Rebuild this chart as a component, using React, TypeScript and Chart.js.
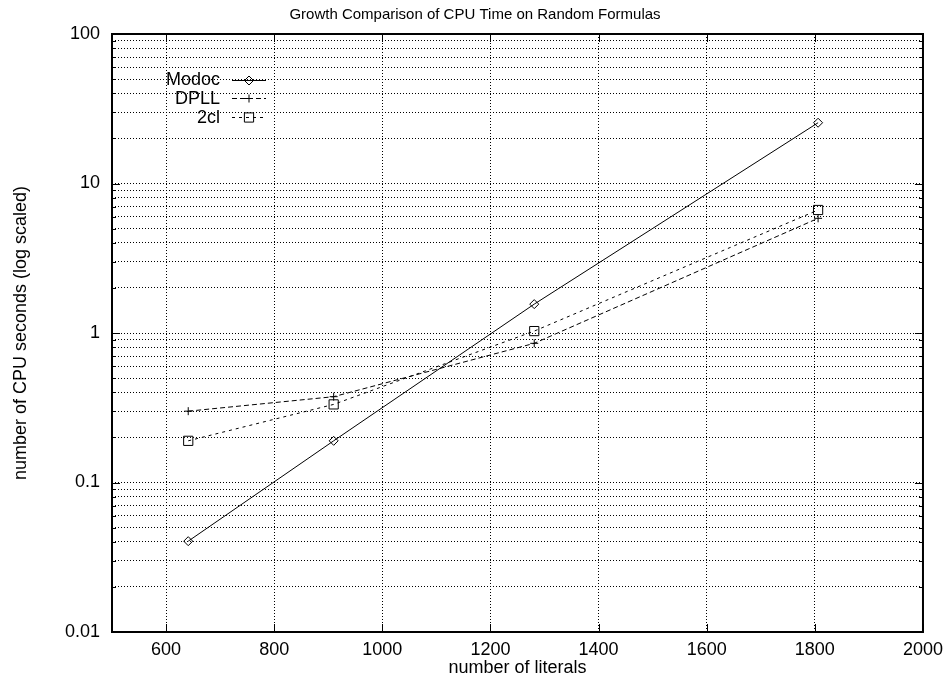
import React, { useEffect, useRef } from 'react';
import { Chart, registerables } from 'chart.js';

Chart.register(...registerables);

const chartTitle = 'Growth Comparison of CPU Time on Random Formulas';
const xTitle = 'number of literals';
const yTitle = 'number of CPU seconds (log scaled)';

const literals = [641, 910, 1281, 1806];
const modocSeconds = [0.0405, 0.19, 1.56, 25.5];
const dpllSeconds = [0.3, 0.375, 0.853, 5.85];
const twoClSeconds = [0.19, 0.333, 1.03, 6.65];
const seriesLabels = ['Modoc', 'DPLL', '2cl'];

const xTicks = [600, 800, 1000, 1200, 1400, 1600, 1800, 2000];
const yDecades = [0.01, 0.1, 1, 10, 100];
const yMinorMultipliers = [2, 3, 4, 5, 6, 7, 8, 9];

const FONT = "'Liberation Sans', Arial, Helvetica, sans-serif";

function buildYTicks() {
  const out: { value: number; major: boolean }[] = [];
  yDecades.forEach((d, i) => {
    out.push({ value: d, major: true });
    if (i < yDecades.length - 1) {
      yMinorMultipliers.forEach((m) => out.push({ value: Number((m * d).toPrecision(3)), major: false }));
    }
  });
  return out;
}

function drawMarker(ctx: CanvasRenderingContext2D, style: string, x: number, y: number, r: number) {
  ctx.beginPath();
  if (style === 'rectRot') {
    ctx.moveTo(x - r, y);
    ctx.lineTo(x, y - r);
    ctx.lineTo(x + r, y);
    ctx.lineTo(x, y + r);
    ctx.closePath();
  } else if (style === 'cross') {
    ctx.moveTo(x - r, y);
    ctx.lineTo(x + r, y);
    ctx.moveTo(x, y - r);
    ctx.lineTo(x, y + r);
  } else {
    const s = Math.SQRT1_2 * r;
    ctx.rect(x - s, y - s, 2 * s, 2 * s);
  }
  ctx.stroke();
}

const framePlugin = {
  id: 'gnuFrame',
  afterDraw(chart: any) {
    const { ctx, chartArea } = chart;
    const { left, right, top, bottom } = chartArea;
    const xs = chart.scales.x;
    const ys = chart.scales.y;
    ctx.save();
    // title
    ctx.font = `15px ${FONT}`;
    ctx.fillStyle = '#000';
    ctx.textAlign = 'center';
    ctx.textBaseline = 'middle';
    ctx.fillText(chartTitle, chart.width / 2, 15);

    ctx.strokeStyle = '#000';
    ctx.lineWidth = 1;
    ctx.setLineDash([]);
    ctx.beginPath();
    xs.ticks.forEach((t: any) => {
      const px = Math.round(xs.getPixelForValue(t.value)) + 0.5;
      ctx.moveTo(px, bottom);
      ctx.lineTo(px, bottom - 8);
      ctx.moveTo(px, top);
      ctx.lineTo(px, top + 8);
    });
    ys.ticks.forEach((t: any) => {
      const py = Math.round(ys.getPixelForValue(t.value)) + 0.5;
      const len = yDecades.includes(t.value) ? 8 : 4;
      ctx.moveTo(left, py);
      ctx.lineTo(left + len, py);
      ctx.moveTo(right, py);
      ctx.lineTo(right - len, py);
    });
    ctx.stroke();
    ctx.lineWidth = 2;
    ctx.strokeRect(left, top, right - left, bottom - top);

    // legend
    ctx.font = `18px ${FONT}`;
    ctx.fillStyle = '#000';
    ctx.textAlign = 'right';
    ctx.textBaseline = 'middle';
    chart.data.datasets.forEach((ds: any, i: number) => {
      const y = top + 45.5 + i * 18.7;
      const tx = left + 108;
      ctx.fillText(ds.label, tx, y + 1);
      ctx.lineWidth = 1;
      ctx.strokeStyle = '#000';
      ctx.setLineDash(ds.borderDash || []);
      ctx.beginPath();
      ctx.moveTo(left + 120, Math.round(y) + 0.5);
      ctx.lineTo(left + 154, Math.round(y) + 0.5);
      ctx.stroke();
      ctx.setLineDash([]);
      drawMarker(ctx, ds.pointStyle, left + 137, Math.round(y) + 0.5, ds.pointRadius);
    });
    ctx.restore();
  },
};

export default function App() {
  const ref = useRef<HTMLCanvasElement>(null);
  useEffect(() => {
    document.body.style.margin = '0';
    const yTicks = buildYTicks();
    const mk = (vals: number[]) => literals.map((x, i) => ({ x, y: vals[i] }));
    const chart = new Chart(ref.current as HTMLCanvasElement, {
      type: 'line',
      data: {
        datasets: [
          {
            label: seriesLabels[0],
            data: mk(modocSeconds),
            borderColor: '#000',
            borderWidth: 1,
            pointStyle: 'rectRot',
            pointRadius: 4.5,
            pointBorderColor: '#000',
            pointBackgroundColor: 'rgba(0,0,0,0)',
            pointBorderWidth: 1,
            borderDash: [],
            fill: false,
          },
          {
            label: seriesLabels[1],
            data: mk(dpllSeconds),
            borderColor: '#000',
            borderWidth: 1,
            pointStyle: 'cross',
            pointRadius: 4,
            pointBorderColor: '#000',
            pointBorderWidth: 1,
            borderDash: [5, 3],
            fill: false,
          },
          {
            label: seriesLabels[2],
            data: mk(twoClSeconds),
            borderColor: '#000',
            borderWidth: 1,
            pointStyle: 'rect',
            pointRadius: 6.5,
            pointBorderColor: '#000',
            pointBackgroundColor: 'rgba(0,0,0,0)',
            pointBorderWidth: 1,
            borderDash: [3, 4],
            fill: false,
          },
        ] as any,
      },
      options: {
        responsive: false,
        animation: false,
        layout: { padding: { left: 0, right: 21, top: 34, bottom: 0 } },
        plugins: {
          legend: { display: false },
          tooltip: { enabled: false },
          title: { display: false },
        },
        scales: {
          x: {
            type: 'linear',
            min: 500,
            max: 2000,
            afterBuildTicks: (s: any) => {
              s.ticks = xTicks.map((v) => ({ value: v }));
            },
            afterFit: (s: any) => {
              s.height = 45;
            },
            grid: { color: '#000', lineWidth: 1, drawTicks: false },
            border: { display: false, dash: [1, 2] },
            ticks: {
              color: '#000',
              font: { family: FONT, size: 18 },
              padding: 7,
              autoSkip: false,
              maxRotation: 0,
              callback: (v: any) => String(v),
            },
            title: {
              display: true,
              text: xTitle,
              color: '#000',
              font: { family: FONT, size: 18, lineHeight: 1 },
              padding: 0,
            },
          },
          y: {
            type: 'logarithmic',
            min: 0.01,
            max: 100,
            afterBuildTicks: (s: any) => {
              s.ticks = yTicks.map((t) => ({ value: t.value, major: false }));
            },
            afterFit: (s: any) => {
              s.width = 112;
            },
            grid: { color: '#000', lineWidth: 1, drawTicks: false },
            border: { display: false, dash: [1, 2] },
            ticks: {
              color: '#000',
              font: { family: FONT, size: 18 },
              padding: 12,
              autoSkip: false,
              callback: (v: any) => (yDecades.includes(Number(v)) ? String(v) : ''),
            },
            title: {
              display: true,
              text: yTitle,
              color: '#000',
              font: { family: FONT, size: 18, lineHeight: 1.2 },
              padding: { top: 10, bottom: 0 },
            },
          },
        },
      } as any,
      plugins: [framePlugin],
    });
    return () => chart.destroy();
  }, []);
  return (
    <div style={{ position: 'fixed', left: 0, top: 0, width: 950, height: 677 }}>
      <canvas ref={ref} width={950} height={677} style={{ display: 'block' }} />
    </div>
  );
}
